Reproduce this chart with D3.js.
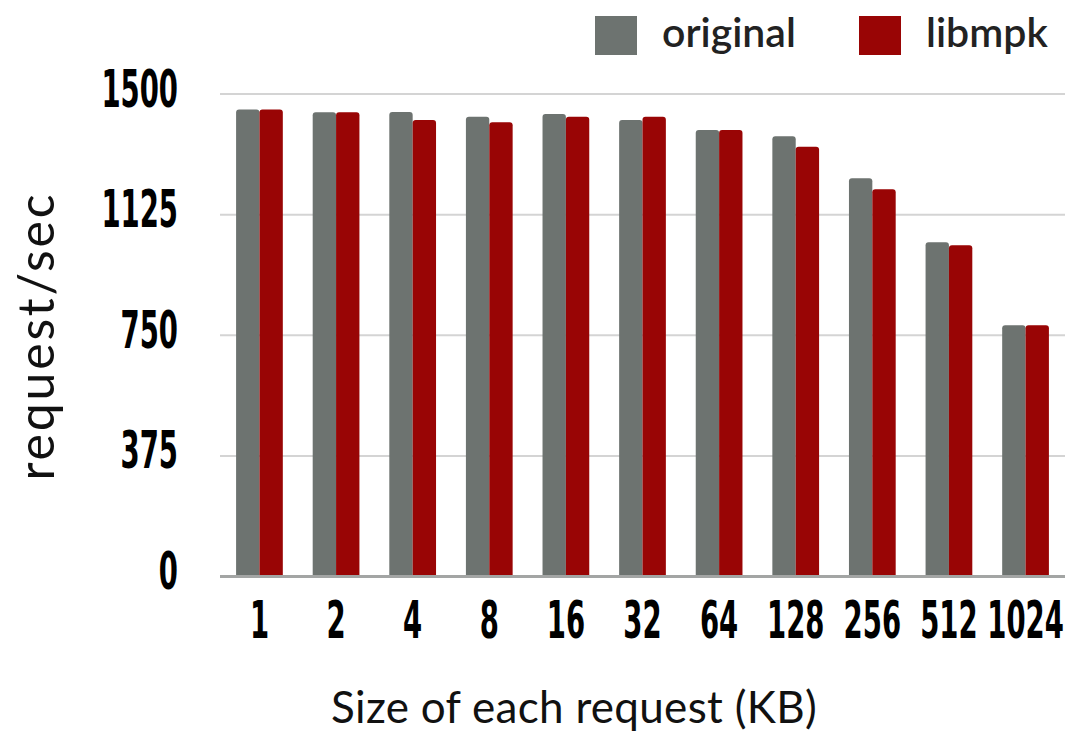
<!DOCTYPE html>
<html>
<head>
<meta charset="utf-8">
<title>request/sec vs request size</title>
<script src="https://cdn.jsdelivr.net/npm/d3@7"></script>
<style>
  body { margin: 0; background: #fff; }
  svg { display: block; }
</style>
</head>
<body>
<svg id="chart" width="1072" height="744"></svg>
<script>
// data
const sizes = ["1", "2", "4", "8", "16", "32", "64", "128", "256", "512", "1024"];
const original = [1452, 1443, 1444, 1429, 1438, 1419, 1388, 1369, 1238, 1039, 781];
const libmpk = [1452, 1443, 1419, 1412, 1429, 1429, 1388, 1336, 1204, 1030, 781];
const series = ["original", "libmpk"];
const yTicks = [0, 375, 750, 1125, 1500];

const colors = { original: "#6d7370", libmpk: "#990505" };

const svg = d3.select("#chart");
const plotL = 220, plotR = 1065, plotT = 94, plotB = 576.5;
const squeeze = 0.6; // tick font is a narrow condensed face

const x = d3.scaleBand().domain(sizes).range([plotL, plotR])
  .paddingInner(0.39).paddingOuter(0.21);
const xs = d3.scaleBand().domain(series).range([0, x.bandwidth()]);
const y = d3.scaleLinear().domain([0, 1500]).range([plotB, plotT]);

// gridlines
svg.append("g")
  .selectAll("line")
  .data(yTicks.filter(d => d > 0))
  .join("line")
  .attr("x1", plotL).attr("x2", plotR)
  .attr("y1", d => y(d)).attr("y2", d => y(d))
  .attr("stroke", "#d4d4d4").attr("stroke-width", 2);

// bars with slightly rounded tops
function topRounded(x0, y0, w, h, r) {
  return `M${x0},${y0 + h} V${y0 + r} Q${x0},${y0} ${x0 + r},${y0} H${x0 + w - r} Q${x0 + w},${y0} ${x0 + w},${y0 + r} V${y0 + h} Z`;
}

const rows = sizes.map((s, i) => ({ size: s, original: original[i], libmpk: libmpk[i] }));

svg.append("g")
  .selectAll("g")
  .data(rows)
  .join("g")
  .attr("transform", d => `translate(${x(d.size)},0)`)
  .selectAll("path")
  .data(d => series.map(k => ({ key: k, value: d[k] })))
  .join("path")
  .attr("d", d => topRounded(xs(d.key), y(d.value), xs.bandwidth(), plotB - y(d.value), 3))
  .attr("fill", d => colors[d.key]);

const tickFont = "'DejaVu Sans Condensed', 'DejaVu Sans', sans-serif";

// x axis
const xAxis = svg.append("g")
  .attr("transform", `translate(0,${plotB})`)
  .call(d3.axisBottom(x).tickSize(0).tickPadding(0));
xAxis.select(".domain").attr("stroke", "#a3a5a4").attr("stroke-width", 3)
  .attr("d", `M${plotL},0H${plotR}`);
xAxis.selectAll("text")
  .attr("y", 62)
  .attr("dy", 0)
  .attr("transform", `scale(${squeeze},1)`)
  .attr("fill", "#000")
  .style("font-family", tickFont)
  .style("font-weight", "bold")
  .style("font-size", "51px");

// y axis
const yAxis = svg.append("g")
  .attr("transform", `translate(${plotL},0)`)
  .call(d3.axisLeft(y).tickValues(yTicks).tickFormat(d3.format("d")).tickSize(0).tickPadding(0));
yAxis.select(".domain").remove();
yAxis.selectAll("text")
  .attr("x", -42 / squeeze)
  .attr("dy", 0)
  .attr("y", 12)
  .attr("transform", `scale(${squeeze},1)`)
  .attr("fill", "#000")
  .style("font-family", tickFont)
  .style("font-weight", "bold")
  .style("font-size", "51px");

// axis titles
svg.append("text")
  .attr("x", 574).attr("y", 723)
  .attr("text-anchor", "middle")
  .style("font-family", "Lato, sans-serif")
  .style("font-size", "44px")
  .style("letter-spacing", "0.3px")
  .attr("fill", "#111")
  .text("Size of each request (KB)");

svg.append("text")
  .attr("transform", "translate(54,336) rotate(-90)")
  .attr("text-anchor", "middle")
  .style("font-family", "Lato, sans-serif")
  .style("font-size", "50px")
  .style("letter-spacing", "2.8px")
  .attr("fill", "#111")
  .text("request/sec");

// legend
const legend = svg.append("g")
  .selectAll("g")
  .data(series)
  .join("g")
  .attr("transform", (d, i) => `translate(${[595, 859][i]},16)`);
legend.append("rect")
  .attr("width", 42).attr("height", 39)
  .attr("fill", d => colors[d]);
legend.append("text")
  .attr("x", 67).attr("y", 31)
  .style("font-family", "Lato, sans-serif")
  .style("font-weight", "600")
  .style("font-size", "41px")
  .attr("fill", "#222")
  .text(d => d);
</script>
</body>
</html>
